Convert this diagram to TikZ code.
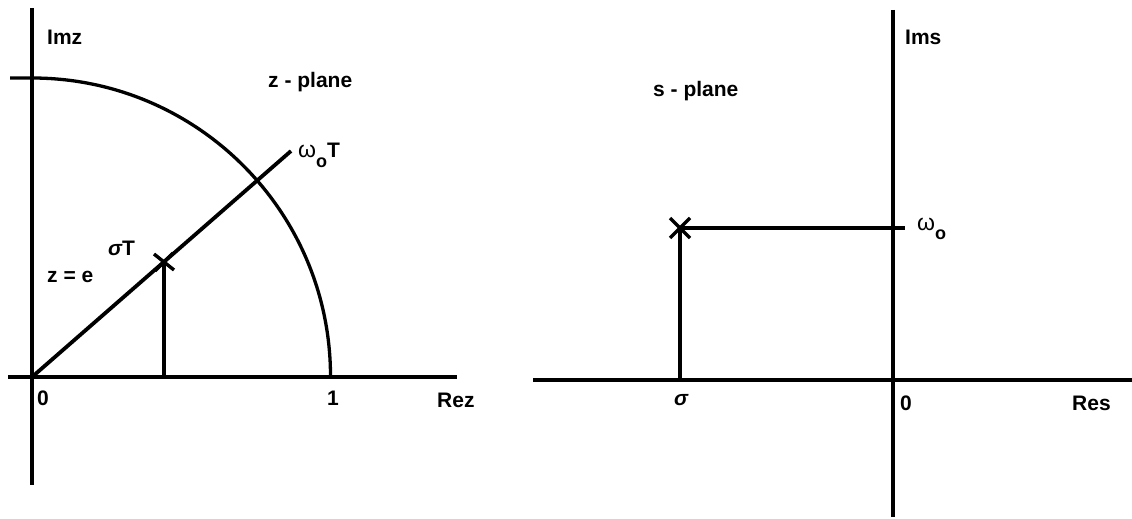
\documentclass[tikz,border=0pt]{standalone}
\usepackage{fontspec}
\setmainfont{Liberation Sans}
\usetikzlibrary{calc}
\begin{document}
\begin{tikzpicture}[x=1pt,y=-1pt,
  axisline/.style={line width=3.8pt},
  guideline/.style={line width=3.3pt},
  lbl/.style={inner sep=0pt, anchor=base west, font=\fontsize{21}{24}\selectfont\bfseries},
  crossmark/.style={line width=3.4pt}]
\useasboundingbox (0,0) rectangle (1132,519);
% ---------- z-plane ----------
\coordinate (zT) at (32,8);
\coordinate (zB) at (32,485);
\coordinate (zL) at (8,377);
\coordinate (zR) at (457,377);
\coordinate (O1) at (32,377);
\coordinate (arcT) at (32,78);
\coordinate (tickL) at (10,78);
\coordinate (rayE) at (291,151);
\coordinate (P1) at (164,262);
\coordinate (P1b) at (164,377);
\draw[axisline] (zT) -- (zB);
\draw[axisline] (zL) -- (zR);
\draw[guideline] (tickL) -- (arcT) arc[start angle=-90, end angle=0, radius=298.5];
\draw[axisline] (O1) -- (rayE);
\draw[guideline] (P1) -- (P1b);
\draw[crossmark] ($(P1)+(-10,-8)$) -- ($(P1)+(10,8)$);
\draw[crossmark] ($(P1)+(-9,9)$) -- ($(P1)+(9,-9)$);
\node[lbl] (imz) at (47,45) {Imz};
\node[lbl] (zpl) at (268,87) {z - plane};
\node[lbl] (wT) at (298,157) {{\mdseries\fontsize{23}{24}\selectfont ω}\raisebox{-10pt}{\fontsize{18}{18}\selectfont o}T};
\node[lbl] (zeq) at (47,282) {z = e};
\node[lbl] (sT) at (108,255) {{\itshape σ}T};
\node[lbl] (z0) at (37,405) {0};
\node[lbl] (z1) at (327,405) {1};
\node[lbl] (rez) at (437,407) {Rez};
% ---------- s-plane ----------
\coordinate (sT1) at (893,10);
\coordinate (sB1) at (893,517);
\coordinate (sL) at (533,380);
\coordinate (sR) at (1132,380);
\coordinate (P2) at (680,228);
\coordinate (P2r) at (905,228);
\coordinate (P2b) at (680,380);
\draw[axisline] (sT1) -- (sB1);
\draw[axisline] (sL) -- (sR);
\draw[guideline] (P2) -- (P2r);
\draw[guideline] (P2) -- (P2b);
\draw[crossmark] ($(P2)+(-10,-10)$) -- ($(P2)+(10,10)$);
\draw[crossmark] ($(P2)+(-10,10)$) -- ($(P2)+(10,-10)$);
\node[lbl] (ims) at (905,45) {Ims};
\node[lbl] (spl) at (653,96) {s - plane};
\node[lbl] (wo) at (917,230) {{\mdseries\fontsize{23}{24}\selectfont ω}\raisebox{-9pt}{\fontsize{18}{18}\selectfont o}};
\node[lbl] (sig) at (674,405) {{\itshape σ}};
\node[lbl] (s0) at (900,410) {0};
\node[lbl] (res) at (1072,410) {Res};
\end{tikzpicture}
\end{document}
